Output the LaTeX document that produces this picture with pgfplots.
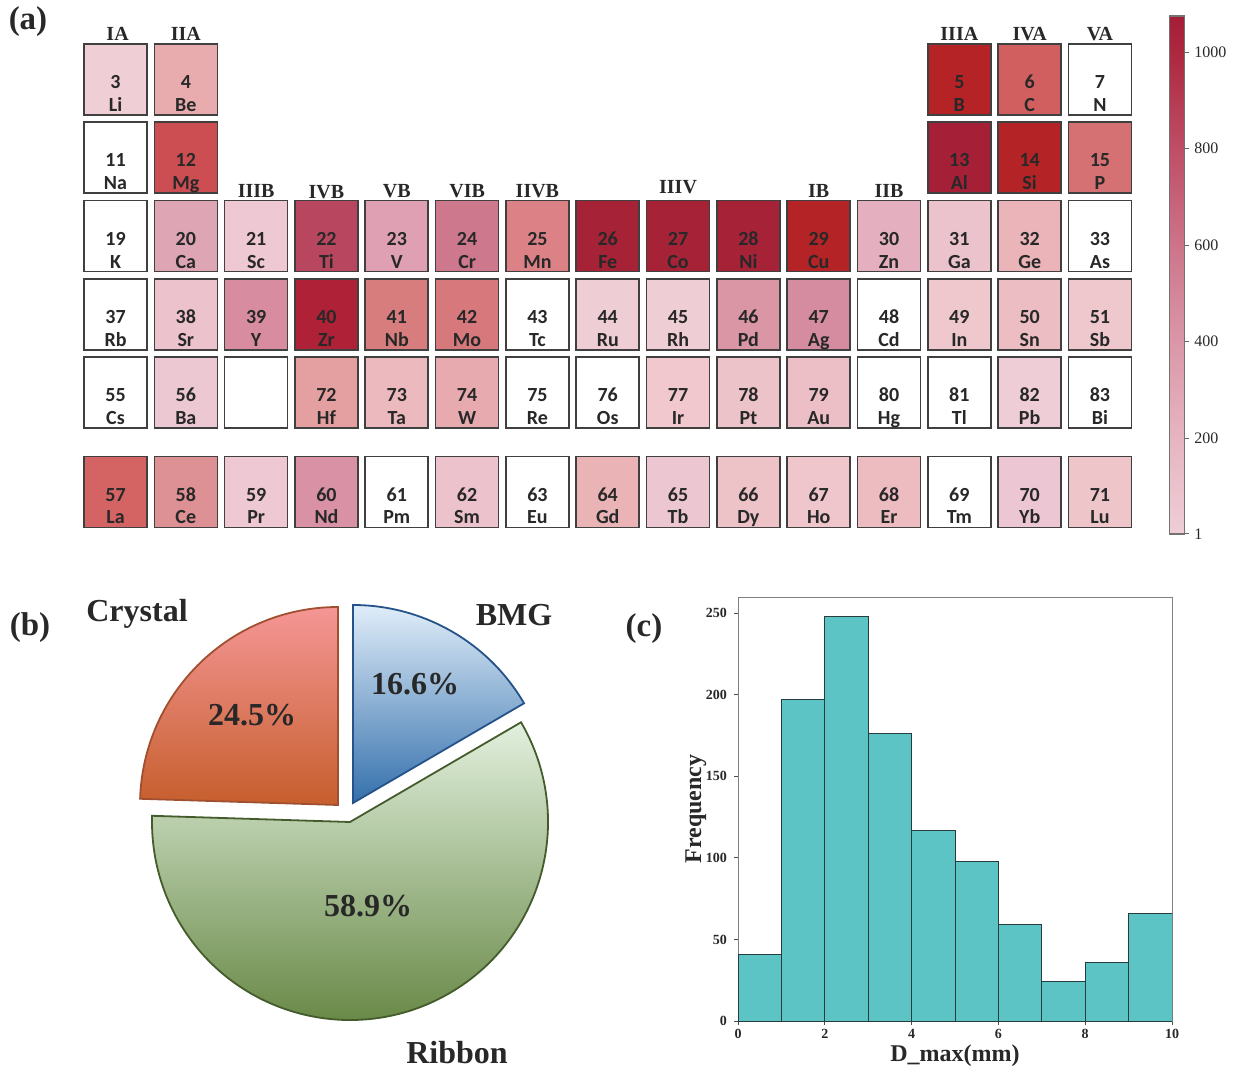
\documentclass[border=0pt]{standalone}
\usepackage{pgfplots}
\pgfplotsset{compat=1.18}
\usepackage{fontspec}
\setmainfont{Liberation Serif}
\newfontfamily\carl{Carlito}
\pgfplotsset{/pgf/number format/assume math mode=true}
\definecolor{txt}{RGB}{40,40,40}
\definecolor{histc}{RGB}{92,196,197}
% cell colours
\definecolor{eLi}{RGB}{240,206,214}\definecolor{eBe}{RGB}{232,172,175}\definecolor{eB}{RGB}{182,35,38}
\definecolor{eC}{RGB}{210,95,95}\definecolor{eMg}{RGB}{205,78,82}\definecolor{eAl}{RGB}{165,32,55}
\definecolor{eSi}{RGB}{180,35,38}\definecolor{eP}{RGB}{213,112,115}\definecolor{eCa}{RGB}{222,165,180}
\definecolor{eSc}{RGB}{238,200,210}\definecolor{eTi}{RGB}{185,70,95}\definecolor{eV}{RGB}{222,160,178}
\definecolor{eCr}{RGB}{205,120,140}\definecolor{eMn}{RGB}{220,130,135}\definecolor{eFe}{RGB}{165,34,55}
\definecolor{eCu}{RGB}{180,35,38}\definecolor{eZn}{RGB}{228,175,190}\definecolor{eGa}{RGB}{235,195,205}
\definecolor{eGe}{RGB}{234,180,185}\definecolor{eSr}{RGB}{236,195,205}\definecolor{eY}{RGB}{215,140,160}
\definecolor{eZr}{RGB}{175,33,55}\definecolor{eNb}{RGB}{215,125,125}\definecolor{eMo}{RGB}{215,120,125}
\definecolor{eRu}{RGB}{238,205,212}\definecolor{ePd}{RGB}{218,150,165}\definecolor{eAg}{RGB}{213,140,160}
\definecolor{eIn}{RGB}{238,200,205}\definecolor{eSn}{RGB}{236,190,195}\definecolor{eBa}{RGB}{236,200,210}
\definecolor{eHf}{RGB}{228,160,160}\definecolor{eTa}{RGB}{236,185,190}\definecolor{eW}{RGB}{230,170,175}
\definecolor{eIr}{RGB}{240,200,205}\definecolor{ePt}{RGB}{236,195,200}\definecolor{eAu}{RGB}{236,190,198}
\definecolor{ePb}{RGB}{238,205,215}\definecolor{eLa}{RGB}{212,100,100}\definecolor{eCe}{RGB}{222,145,148}
\definecolor{eNd}{RGB}{216,145,165}\definecolor{eSm}{RGB}{236,195,205}\definecolor{eGd}{RGB}{234,180,182}
\definecolor{eTb}{RGB}{236,198,208}\definecolor{eDy}{RGB}{238,195,200}\definecolor{eHo}{RGB}{238,198,203}
\definecolor{eEr}{RGB}{236,188,193}\definecolor{eYb}{RGB}{236,198,210}\definecolor{eLu}{RGB}{238,198,202}
\newcommand\el[4]{%
  \node[anchor=base,font=\carl\bfseries\fontsize{10}{10}\selectfont,text=txt,yshift=-4.6pt] at (axis cs:#1,#2) {#3};
  \node[anchor=base,font=\carl\bfseries\fontsize{10}{10}\selectfont,text=txt,yshift=-16pt] at (axis cs:#1,#2) {#4};}
\newcommand\grp[3]{\node[font=\bfseries\fontsize{10}{10}\selectfont,text=txt] at (axis cs:#1,#2) {#3};}
\begin{document}
\begin{tikzpicture}
\useasboundingbox (0,0) rectangle (618pt,-534.5pt);
% ---------------- (a) periodic table ----------------
\begin{axis}[at={(40.17pt,-20.19pt)}, anchor=north west, scale only axis,
  width=527.4pt, height=246.5pt, xmin=0.5, xmax=15.5, ymin=-6.8, ymax=-0.5,
  hide axis, clip=false]
\addplot[scatter, only marks, mark=square*, mark size=15.75pt,
  mark options={yscale=1.127, line width=0.8pt},
  visualization depends on={value \thisrow{c} \as \cc},
  scatter/use mapped color={draw=black!75, fill=\cc}]
  table {
x y c
1 -1 eLi
2 -1 eBe
13 -1 eB
14 -1 eC
15 -1 white
1 -2 white
2 -2 eMg
13 -2 eAl
14 -2 eSi
15 -2 eP
1 -3 white
2 -3 eCa
3 -3 eSc
4 -3 eTi
5 -3 eV
6 -3 eCr
7 -3 eMn
8 -3 eFe
9 -3 eFe
10 -3 eFe
11 -3 eCu
12 -3 eZn
13 -3 eGa
14 -3 eGe
15 -3 white
1 -4 white
2 -4 eSr
3 -4 eY
4 -4 eZr
5 -4 eNb
6 -4 eMo
7 -4 white
8 -4 eRu
9 -4 eRu
10 -4 ePd
11 -4 eAg
12 -4 white
13 -4 eIn
14 -4 eSn
15 -4 eIn
1 -5 white
2 -5 eBa
3 -5 white
4 -5 eHf
5 -5 eTa
6 -5 eW
7 -5 white
8 -5 white
9 -5 eIr
10 -5 ePt
11 -5 eAu
12 -5 white
13 -5 white
14 -5 ePb
15 -5 white
1 -6.27 eLa
2 -6.27 eCe
3 -6.27 eSc
4 -6.27 eNd
5 -6.27 white
6 -6.27 eSm
7 -6.27 white
8 -6.27 eGd
9 -6.27 eTb
10 -6.27 eDy
11 -6.27 eHo
12 -6.27 eEr
13 -6.27 white
14 -6.27 eYb
15 -6.27 eLu
};
\end{axis}
% overlay axis: cell texts, group labels and colorbar
\begin{axis}[at={(40.17pt,-20.19pt)}, anchor=north west, scale only axis,
  width=527.4pt, height=246.5pt, xmin=0.5, xmax=15.5, ymin=-6.8, ymax=-0.5,
  hide axis, clip=false,
  colormap={pt}{rgb255(1)=(238,206,215) rgb255(200)=(230,181,193) rgb255(400)=(218,151,168)
    rgb255(600)=(205,116,138) rgb255(800)=(190,78,102) rgb255(1000)=(172,40,63) rgb255(1075)=(165,30,55)},
  point meta min=1, point meta max=1075, colorbar,
  colorbar style={at={(parent axis.north east)}, anchor=north west, xshift=8.5pt, yshift=12.2pt,
    scale only axis, width=7.5pt, height=259pt, ytick={1,200,400,600,800,1000},
    yticklabel pos=right, ytick pos=right, tick align=outside, major tick length=2.5pt,
    tick style={draw=black!60, line width=0.5pt}, axis line style={draw=black!55, line width=0.6pt},
    yticklabel style={font=\fontsize{8}{8}\selectfont, text=txt, xshift=-1pt,
      /pgf/number format/1000 sep={}}}]
\addplot[draw=none] coordinates {(1,-1)};
\el{1}{-1}{3}{Li}\el{2}{-1}{4}{Be}\el{13}{-1}{5}{B}\el{14}{-1}{6}{C}\el{15}{-1}{7}{N}
\el{1}{-2}{11}{Na}\el{2}{-2}{12}{Mg}\el{13}{-2}{13}{Al}\el{14}{-2}{14}{Si}\el{15}{-2}{15}{P}
\el{1}{-3}{19}{K}\el{2}{-3}{20}{Ca}\el{3}{-3}{21}{Sc}\el{4}{-3}{22}{Ti}\el{5}{-3}{23}{V}
\el{6}{-3}{24}{Cr}\el{7}{-3}{25}{Mn}\el{8}{-3}{26}{Fe}\el{9}{-3}{27}{Co}\el{10}{-3}{28}{Ni}
\el{11}{-3}{29}{Cu}\el{12}{-3}{30}{Zn}\el{13}{-3}{31}{Ga}\el{14}{-3}{32}{Ge}\el{15}{-3}{33}{As}
\el{1}{-4}{37}{Rb}\el{2}{-4}{38}{Sr}\el{3}{-4}{39}{Y}\el{4}{-4}{40}{Zr}\el{5}{-4}{41}{Nb}
\el{6}{-4}{42}{Mo}\el{7}{-4}{43}{Tc}\el{8}{-4}{44}{Ru}\el{9}{-4}{45}{Rh}\el{10}{-4}{46}{Pd}
\el{11}{-4}{47}{Ag}\el{12}{-4}{48}{Cd}\el{13}{-4}{49}{In}\el{14}{-4}{50}{Sn}\el{15}{-4}{51}{Sb}
\el{1}{-5}{55}{Cs}\el{2}{-5}{56}{Ba}\el{4}{-5}{72}{Hf}\el{5}{-5}{73}{Ta}
\el{6}{-5}{74}{W}\el{7}{-5}{75}{Re}\el{8}{-5}{76}{Os}\el{9}{-5}{77}{Ir}\el{10}{-5}{78}{Pt}
\el{11}{-5}{79}{Au}\el{12}{-5}{80}{Hg}\el{13}{-5}{81}{Tl}\el{14}{-5}{82}{Pb}\el{15}{-5}{83}{Bi}
\el{1}{-6.27}{57}{La}\el{2}{-6.27}{58}{Ce}\el{3}{-6.27}{59}{Pr}\el{4}{-6.27}{60}{Nd}\el{5}{-6.27}{61}{Pm}
\el{6}{-6.27}{62}{Sm}\el{7}{-6.27}{63}{Eu}\el{8}{-6.27}{64}{Gd}\el{9}{-6.27}{65}{Tb}\el{10}{-6.27}{66}{Dy}
\el{11}{-6.27}{67}{Ho}\el{12}{-6.27}{68}{Er}\el{13}{-6.27}{69}{Tm}\el{14}{-6.27}{70}{Yb}\el{15}{-6.27}{71}{Lu}
\grp{1.03}{-0.42}{IA}\grp{2}{-0.42}{IIA}\grp{13}{-0.42}{IIIA}\grp{14}{-0.42}{IVA}\grp{15}{-0.42}{VA}
\grp{3}{-2.43}{IIIB}\grp{4}{-2.44}{IVB}\grp{5}{-2.43}{VB}\grp{6}{-2.42}{VIB}\grp{7}{-2.42}{IIVB}
\grp{9}{-2.38}{IIIV}\grp{11}{-2.42}{IB}\grp{12}{-2.42}{IIB}
\end{axis}
% ---------------- (b) pie ----------------
\def\pC{24.5}\def\pB{16.6}\def\pR{58.9}
\pgfmathsetmacro\aB{90-3.6*\pB}
\pgfmathsetmacro\aR{\aB-3.6*\pR}
\pgfmathsetmacro\aCe{\aR+360}
\begin{axis}[at={(50pt,-534.5pt)}, anchor=south west, scale only axis,
  width=250pt, height=244.5pt, xmin=50, xmax=300, ymin=-534.5, ymax=-290,
  hide axis, clip=false]
\addplot[draw=none] coordinates {(175,-411)};
\filldraw[draw={rgb,255:red,160;green,80;blue,48}, line width=0.9pt,
  top color={rgb,255:red,245;green,150;blue,150}, middle color={rgb,255:red,240;green,102;blue,76},
  bottom color={rgb,255:red,198;green,94;blue,44}]
  (axis cs:169,-402.5) -- ++(90:99pt) arc[start angle=90, end angle=\aCe, radius=99pt] -- cycle;
\filldraw[draw={rgb,255:red,38;green,82;blue,138}, line width=0.9pt,
  top color={rgb,255:red,224;green,237;blue,249}, middle color={rgb,255:red,160;green,195;blue,228},
  bottom color={rgb,255:red,52;green,112;blue,172}]
  (axis cs:176.5,-401.5) -- ++(90:99pt) arc[start angle=90, end angle=\aB, radius=99pt] -- cycle;
\filldraw[draw={rgb,255:red,68;green,92;blue,44}, line width=0.9pt,
  top color={rgb,255:red,226;green,240;blue,222}, middle color={rgb,255:red,168;green,208;blue,142},
  bottom color={rgb,255:red,94;green,128;blue,58}]
  (axis cs:175,-411) -- ++(\aB:99pt) arc[start angle=\aB, end angle=\aR, radius=99pt] -- cycle;
\node[font=\bfseries\fontsize{16}{16}\selectfont, text=txt] at (axis cs:126,-357.5) {\pC\%};
\node[font=\bfseries\fontsize{16}{16}\selectfont, text=txt] at (axis cs:207.5,-342) {\pB\%};
\node[font=\bfseries\fontsize{16}{16}\selectfont, text=txt] at (axis cs:184,-453) {\pR\%};
\node[font=\bfseries\fontsize{16}{16}\selectfont, text=txt] at (axis cs:68.5,-307) {Crystal};
\node[font=\bfseries\fontsize{16}{16}\selectfont, text=txt] at (axis cs:257,-307.5) {BMG};
\node[font=\bfseries\fontsize{16}{16}\selectfont, text=txt] at (axis cs:228.5,-526.5) {Ribbon};
\end{axis}
% ---------------- (c) histogram ----------------
\begin{axis}[at={(369pt,-510.5pt)}, anchor=south west, scale only axis,
  width=217pt, height=212pt, xmin=0, xmax=10, ymin=0, ymax=260,
  xtick={0,2,...,10}, ytick={0,50,...,250}, xtick pos=bottom, ytick pos=left,
  tick align=outside, major tick length=2pt, tick style={draw=black!70, line width=0.5pt},
  axis line style={draw=black!50, line width=0.5pt},
  ticklabel style={font=\bfseries\fontsize{7}{7}\selectfont, text=txt},
  xticklabel style={yshift=1.5pt},
  xlabel={D\_max(mm)}, ylabel={Frequency},
  label style={font=\bfseries\fontsize{12}{12}\selectfont, text=txt},
  every axis x label/.append style={at={(axis description cs:0.5,-0.082)}, anchor=center},
  every axis y label/.append style={at={(axis description cs:-0.097,0.5)}, anchor=center}]
\addplot[ybar interval, fill=histc, draw={rgb,255:red,40;green,60;blue,62}, line width=0.5pt]
  coordinates {(0,41)(1,197)(2,248)(3,176)(4,117)(5,98)(6,59)(7,24)(8,36)(9,66)(10,66)};
\end{axis}
% panel labels
\node[font=\bfseries\fontsize{16.5}{16.5}\selectfont, text=txt] at (14pt,-11pt) {(a)};
\node[font=\bfseries\fontsize{16.5}{16.5}\selectfont, text=txt] at (15pt,-314pt) {(b)};
\node[font=\bfseries\fontsize{16.5}{16.5}\selectfont, text=txt] at (322pt,-314.5pt) {(c)};
\end{tikzpicture}
\end{document}
